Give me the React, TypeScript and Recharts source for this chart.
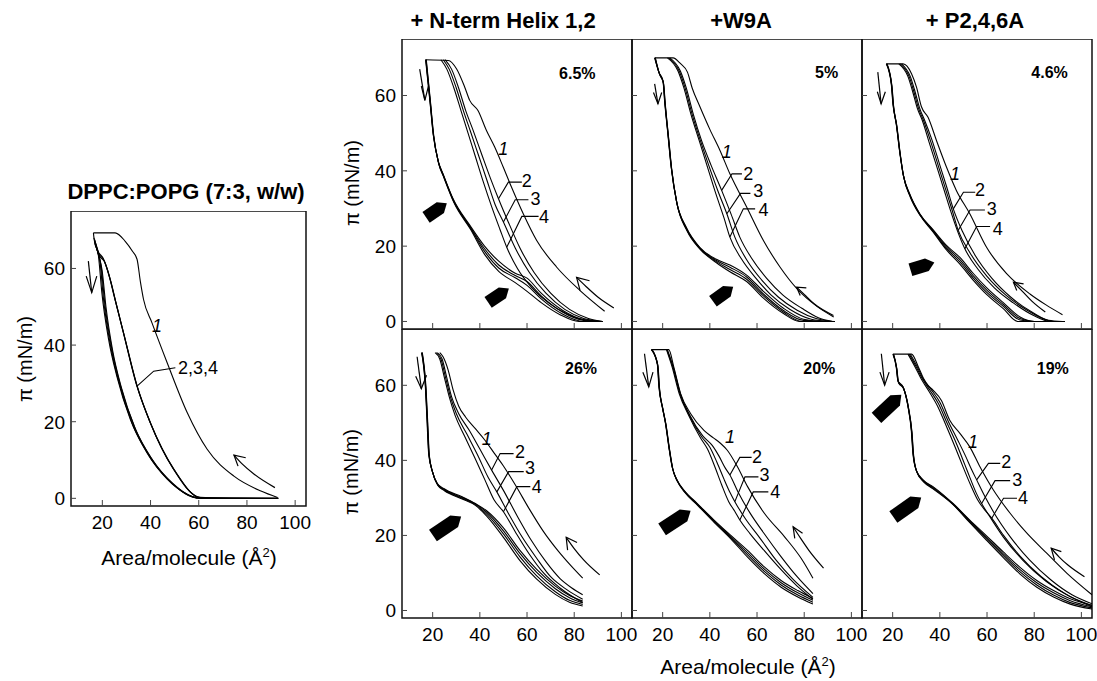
import React from "react";
import { ComposedChart, Line, Scatter, XAxis, YAxis, ReferenceArea } from "recharts";

type P = [number, number];
type Lbl = [number, number, string];
type Mk = [number, number, number];

const X_DOMAIN: [number, number] = [7, 104.5];
const Y_DOMAIN: [number, number] = [-2, 75];
const X_TICKS = [20, 40, 60, 80, 100];
const Y_TICKS = [0, 20, 40, 60];

// ---- DPPC:POPG (7:3, w/w) ----
const dpC1: P[] = [[16.3, 69.3], [25.3, 69.3], [29.5, 67.1], [32.5, 64.5], [34.4, 62.4], [35.8, 56.5], [37.1, 51.9], [40.6, 45.8], [46.9, 35.4], [55.2, 22.4], [63.5, 12.8], [74.6, 5.8], [85.8, 1.9], [92.7, 0.2]];
const dpC2: P[] = [[17, 66.7], [18.4, 64], [20.5, 62.4], [23.3, 57.1], [25.3, 51.9], [28.8, 43.2], [34.4, 29.3], [39.9, 19.7], [49.6, 7.6], [60.8, 0.2], [93, 0]];
const dpC3: P[] = [[17.3, 66], [18.7, 63.4], [20.9, 61.8], [23.6, 56.4], [25.6, 51.2], [29.1, 42.5], [34.7, 28.8], [40.3, 19.2], [50, 7.3], [61.2, 0], [93, 0]];
const dpC4: P[] = [[16.8, 67.5], [18.2, 64.5], [20.2, 62.8], [23, 57.6], [25, 52.5], [28.5, 43.8], [34.1, 29.8], [39.6, 20.2], [49.2, 7.9], [60.5, 0.3], [93, 0]];
const dpE1: P[] = [[16.3, 69.3], [16.6, 67.6], [18.4, 63.2], [19.8, 53.7], [22.6, 41.5], [26, 31.9], [31.6, 20.6], [38.5, 11.9], [46.9, 5], [55.2, 1], [59.4, 0]];
const dpE2: P[] = [[16.5, 68], [17.5, 66], [19, 62], [20.4, 52.5], [23.2, 40.5], [26.8, 30.5], [32.4, 19.5], [39.5, 11], [48, 4.5], [56, 0.8], [60, 0]];
const dpE3: P[] = [[16.8, 67], [18, 64.5], [19.5, 60.5], [21, 51], [23.8, 39.5], [27.5, 29.5], [33.2, 18.8], [40.5, 10.3], [49, 4], [57, 0.5], [60.5, 0]];
const dpE4: P[] = [[17, 66.5], [18.3, 63.8], [19.9, 59.5], [21.5, 50], [24.3, 38.5], [28, 28.7], [33.8, 18], [41, 9.8], [49.5, 3.6], [57.5, 0.3], [61, 0]];
const dpDown: P[] = [[14.2, 61.9], [15.6, 53.7]];
const dpDownHead: P[] = [[13.3, 58], [15.6, 53.7], [17.7, 58]];
const dpArrow: P[] = [[74.6, 11.3], [78, 9], [83, 6.3], [91.6, 2.8]];
const dpArrowHead: P[] = [[79.5, 10.6], [74.6, 11.3], [76.3, 8.4]];
const dpLeaders: P[][] = [[[34.4, 29.3], [41.3, 33.2], [50.3, 34.1]]];
const dpLabels: Lbl[] = [[42.7, 45, "1"], [59.7, 34.1, "2,3,4"]];

// ---- + N-term Helix 1,2 (6.5%) ----
const h1C1: P[] = [[17, 69.5], [26.6, 69.3], [30.1, 67.1], [33.6, 62.2], [35.7, 58.7], [39.2, 56], [42.8, 50.7], [46.3, 46.3], [49.9, 41], [53.4, 35.7], [58.4, 28.6], [64.1, 21.5], [72.6, 14.4], [82.5, 8.2], [92.9, 2.7]];
const h1C2: P[] = [[25.2, 69.5], [28, 67], [31, 62], [34, 56], [37, 51], [41, 44], [44.5, 38], [47.9, 32.6], [52, 26.5], [57, 19.5], [63, 13], [70, 7.5], [78, 3.2], [86, 0.8], [92, 0]];
const h1C3: P[] = [[24.5, 69.5], [27, 67], [30, 62], [33, 56], [36, 50.5], [39.5, 44], [43, 37.5], [46.5, 31], [50, 26.4], [55, 19.5], [61, 13], [68, 7.5], [76, 3.2], [84, 0.8], [91, 0]];
const h1C4: P[] = [[23.5, 69.5], [26, 67], [29, 62], [32, 56], [35, 50], [38, 44], [41.5, 37], [45, 30.5], [48.5, 24.5], [51.4, 19.7], [56, 14], [62, 9], [69, 5], [77, 2], [85, 0.3], [91, 0]];
const h1E1: P[] = [[17, 69.5], [18.8, 58.7], [20.2, 49.8], [22.3, 42.7], [24.4, 39.2], [28.7, 32.5], [35.8, 25.5], [42, 20], [48, 16], [55, 12.8], [60, 11.5], [66, 7.5], [75, 3], [84, 0.5], [92, 0]];
const h1E2: P[] = [[17.1, 69.5], [18.9, 58.5], [20.3, 49.5], [22.4, 42.4], [24.5, 38.9], [28.8, 32.2], [35.9, 25.1], [42, 19.3], [48, 15], [55, 12.2], [60, 10.6], [66, 6.8], [75, 2.5], [84, 0.3], [92, 0]];
const h1E3: P[] = [[17.2, 69.5], [19, 58.3], [20.4, 49.3], [22.5, 42.1], [24.6, 38.6], [28.9, 31.9], [36, 24.8], [42, 18.6], [48, 14.2], [55, 11.6], [60, 9.6], [66, 6], [75, 2], [84, 0], [92, 0]];
const h1E4: P[] = [[17.3, 69.5], [19.1, 58.1], [20.5, 49.1], [22.6, 41.8], [24.7, 38.3], [29, 31.6], [36.1, 24.4], [42, 17.8], [48, 13.3], [55, 10.3], [60, 8], [66, 5], [74, 1.8], [82, 0], [92, 0]];

// ---- +W9A (5%) ----
const w1C1: P[] = [[16.6, 70], [24.4, 70], [27.5, 68.5], [30.5, 66.2], [32.5, 62], [35.8, 57], [40, 51], [44.3, 45.4], [48.5, 39.2], [55.6, 30.4], [62.7, 21.5], [69.8, 14.4], [76.9, 8.7], [85.4, 4], [92.5, 1.2]];
const w1C2: P[] = [[23, 70], [27.5, 66.5], [30, 62], [33, 55], [36.5, 48], [40.5, 41.5], [45, 34.8], [49, 28.5], [52.7, 22.4], [58, 16.5], [64, 11.5], [71, 7], [79, 3.5], [86, 1], [92, 0]];
const w1C3: P[] = [[22.5, 70], [27, 66.5], [29.5, 62], [32.5, 55], [36, 48], [39.5, 41.5], [43.5, 34.5], [47.2, 28.6], [50.6, 22.4], [56, 16], [62, 11], [69, 6.5], [77, 3], [85, 0.8], [92, 0]];
const w1C4: P[] = [[22, 70], [26.5, 66.5], [29, 62], [32, 55], [35.5, 48], [39, 41], [42.5, 34], [46, 27.5], [48.5, 22.4], [53.5, 16.5], [59.5, 11.5], [66, 7], [74, 3.2], [83, 0.6], [91, 0]];
const w1E1: P[] = [[16.6, 70], [18.4, 66.2], [20.1, 64], [20.8, 58.7], [22.2, 49.8], [23.6, 41], [25.8, 32.1], [30, 25], [35.7, 19.7], [42.8, 16.5], [48.5, 15], [55.6, 12.3], [62.7, 8], [71.2, 3.5], [79.7, 0.6], [88, 0], [93, 0]];
const w1E2: P[] = [[16.7, 70], [18.5, 66], [20.2, 63.7], [20.9, 58.4], [22.3, 49.5], [23.7, 40.7], [25.9, 31.8], [30.1, 24.7], [35.8, 19.5], [42.8, 16.2], [48.5, 14.4], [55.6, 11.8], [62.7, 7.3], [71.2, 2.9], [79.7, 0.3], [93, 0]];
const w1E3: P[] = [[16.8, 70], [18.6, 65.8], [20.3, 63.4], [21, 58.1], [22.4, 49.2], [23.8, 40.4], [26, 31.5], [30.2, 24.4], [35.9, 19.3], [42.8, 15.9], [48.5, 13.8], [55.6, 11.2], [62.7, 6.8], [71.2, 2.5], [79, 0], [93, 0]];
const w1E4: P[] = [[16.9, 70], [18.7, 65.6], [20.4, 63.1], [21.1, 57.8], [22.5, 48.9], [23.9, 40.1], [26.1, 31.2], [30.3, 24.1], [36, 19.1], [42.8, 15.6], [48.5, 13.2], [55.6, 10.6], [62.7, 6.2], [71.2, 2.1], [78, 0], [93, 0]];

// ---- + P2,4,6A (4.6%) ----
const pA1C1: P[] = [[17.3, 68.4], [24.4, 68.4], [28, 65.8], [30.1, 62.2], [32.2, 57], [35, 54.2], [38.6, 48], [42.8, 41], [47, 34.8], [52.7, 28.6], [59.8, 19.7], [68.3, 12.7], [78.2, 7.3], [85, 4.4], [92, 1.8]];
const pA1C2: P[] = [[23.8, 68.4], [27.5, 65], [29.5, 61], [31.5, 56.5], [33.5, 53.5], [36.5, 48.5], [40, 41.5], [43, 35.5], [45.7, 29.9], [49.5, 24], [55, 17.5], [62, 11.5], [70, 6.5], [79, 2.5], [88, 0], [93, 0]];
const pA1C3: P[] = [[23.2, 68.4], [27, 65], [29, 61], [31, 56.5], [33, 53.5], [36, 48], [39.5, 41], [42.5, 35], [45, 30], [47.8, 24.2], [53, 18], [60, 12], [68, 7], [77, 3], [86, 0.3], [92, 0]];
const pA1C4: P[] = [[22.6, 68.4], [26.5, 65], [28.5, 61], [30.5, 56.5], [32.5, 53.5], [35.5, 47.5], [39, 40.5], [42, 34.5], [44.5, 29.5], [47.5, 24], [50.6, 19.3], [56, 14], [63, 9], [71, 5], [80, 1.5], [87, 0], [92, 0]];
const pA1E1: P[] = [[17.3, 68.4], [19.4, 63.1], [20.1, 57.8], [21.5, 52.5], [22.9, 45.4], [24.4, 39.2], [27.2, 33.9], [31.5, 28.6], [37.1, 24.4], [42.8, 20.2], [48.5, 17], [54.1, 12.8], [59.8, 9], [66.9, 5], [74, 1.2], [80, 0], [93, 0]];
const pA1E2: P[] = [[17.4, 68.4], [19.5, 62.9], [20.2, 57.6], [21.6, 52.2], [23, 45.1], [24.5, 38.9], [27.3, 33.6], [31.6, 28.4], [37.1, 24.2], [42.8, 19.8], [48.5, 16.4], [54.1, 12.2], [59.8, 8.4], [66.9, 4.5], [74, 0.8], [80, 0], [93, 0]];
const pA1E3: P[] = [[17.5, 68.4], [19.6, 62.7], [20.3, 57.4], [21.7, 52], [23.1, 44.8], [24.6, 38.6], [27.4, 33.3], [31.7, 28.2], [37.1, 24], [42.8, 19.4], [48.5, 15.8], [54.1, 11.6], [59.8, 7.8], [66.9, 4], [74, 0.4], [80, 0], [93, 0]];
const pA1E4: P[] = [[17.6, 68.4], [19.7, 62.5], [20.4, 57.2], [21.8, 51.8], [23.2, 44.5], [24.7, 38.3], [27.5, 33], [31.8, 28], [37.1, 23.8], [42.8, 19], [48.5, 15.2], [54.1, 11], [59.8, 7.2], [66.9, 3.4], [73, 0], [93, 0]];

// ---- + N-term Helix 1,2 (26%) ----
const h2C1: P[] = [[23, 68.7], [24.4, 67.6], [26.6, 64], [28.7, 58.7], [31, 54.5], [34, 51.5], [38, 48.5], [42, 45.5], [46, 42], [50, 38.5], [55, 33.5], [61, 27], [67, 21], [73, 16], [78.5, 12], [83.6, 8.6]];
const h2C2: P[] = [[22, 68.7], [24, 67], [26, 62], [28, 57], [31, 52.5], [35.5, 48], [40, 43], [45, 37.4], [50, 32], [56, 25], [62, 18.5], [68, 13], [74, 8.5], [79, 6], [83.6, 4.2]];
const h2C3: P[] = [[21.5, 68.7], [23.5, 67], [25.5, 62], [27.5, 57], [30, 52.5], [34.5, 47], [39, 41.5], [43.5, 35.5], [47.2, 31.6], [52, 26], [58, 19.5], [64, 14], [70, 9], [77, 5.5], [83.6, 3]];
const h2C4: P[] = [[21, 68.7], [23, 67], [25, 62], [27, 57], [29.5, 52], [33.5, 46.5], [38, 40.5], [42, 35], [46, 29.5], [50, 26.3], [55, 21], [61, 15], [67, 10], [74, 6], [83.6, 2.1]];
const h2E1: P[] = [[15.3, 68.7], [16.9, 59.6], [17.6, 50.7], [18.3, 41.8], [19.7, 37.4], [21.9, 33.9], [24.7, 32.5], [32.5, 30.3], [38.1, 28.5], [43, 26.5], [50, 22], [57, 16], [64, 11], [72, 6.5], [78, 4], [83.6, 2.5]];
const h2E2: P[] = [[15.4, 68.7], [17, 59.4], [17.7, 50.5], [18.4, 41.6], [19.8, 37.2], [22, 33.7], [24.8, 32.3], [32.5, 30.1], [38.1, 28.4], [43, 26.1], [50, 21.2], [57, 15.2], [64, 10.2], [72, 5.8], [78, 3.4], [83.6, 2]];
const h2E3: P[] = [[15.5, 68.7], [17.1, 59.2], [17.8, 50.3], [18.5, 41.4], [19.9, 37], [22.1, 33.5], [24.9, 32.1], [32.5, 29.9], [38.1, 28.2], [43, 25.6], [50, 20.4], [57, 14.3], [64, 9.3], [72, 5], [78, 2.7], [83.6, 1.6]];
const h2E4: P[] = [[15.6, 68.7], [17.2, 59], [17.9, 50.1], [18.6, 41.2], [20, 36.8], [22.2, 33.3], [25, 31.9], [32.5, 29.7], [38.1, 28], [43, 25.1], [50, 19.5], [57, 13.3], [64, 8.4], [72, 4.3], [78, 2.2], [83.6, 1.2]];

// ---- +W9A (20%) ----
const w2C1: P[] = [[15.2, 69.5], [22.6, 69.5], [24.7, 64.9], [27.6, 57.8], [31.8, 52.5], [37.5, 48], [41.5, 46], [44.6, 44.5], [47.4, 42.7], [51.7, 38.3], [56, 33], [63.1, 25.9], [71.6, 19.7], [78.7, 13.9], [83.7, 8.6]];
const w2C2: P[] = [[22, 69.5], [24.5, 64.9], [27.5, 57.8], [31.5, 52], [37, 46.5], [41, 44], [44, 41], [46.5, 38], [48.5, 36.1], [52, 31.5], [57, 26], [63, 20.5], [70, 14.5], [77, 9], [83.7, 4.5]];
const w2C3: P[] = [[21.8, 69.5], [24.3, 64.9], [27.3, 57.8], [31.3, 52], [36.5, 46.3], [40, 43.5], [43, 39.5], [46, 35], [48.5, 31.5], [50.6, 29], [55, 24.5], [61, 19.5], [68, 13.5], [75, 8.5], [83.7, 3.5]];
const w2C4: P[] = [[21.6, 69.5], [24, 64.9], [27, 57.8], [31, 52], [36, 46], [39, 43], [42, 38.5], [45, 33.5], [48, 29], [50.5, 26.5], [52.7, 24.1], [57, 20.5], [63, 16], [70, 11], [77, 6.5], [83.7, 3]];
const w2E1: P[] = [[15.2, 69.5], [17.7, 65.8], [18.4, 59.6], [19.8, 54.3], [21.2, 49.8], [22.6, 43.6], [24, 38.3], [26.1, 34.8], [29, 32.1], [34.7, 28.5], [41.8, 24.1], [48.9, 20], [56, 16], [63.1, 11.6], [70.2, 8], [77.3, 5.3], [83.7, 3.2]];
const w2E2: P[] = [[15.3, 69.5], [17.8, 65.6], [18.5, 59.4], [19.9, 54.1], [21.3, 49.6], [22.7, 43.4], [24.1, 38.1], [26.2, 34.6], [29.1, 31.9], [34.8, 28.3], [41.8, 23.9], [48.9, 19.7], [56, 15.4], [63.1, 11], [70.2, 7.4], [77.3, 4.7], [83.7, 2.7]];
const w2E3: P[] = [[15.4, 69.5], [17.9, 65.4], [18.6, 59.2], [20, 53.9], [21.4, 49.4], [22.8, 43.2], [24.2, 37.9], [26.3, 34.4], [29.2, 31.7], [34.9, 28.1], [41.8, 23.7], [48.9, 19.4], [56, 14.8], [63.1, 10.4], [70.2, 6.8], [77.3, 4.1], [83.7, 2.2]];
const w2E4: P[] = [[15.5, 69.5], [18, 65.2], [18.7, 59], [20.1, 53.7], [21.5, 49.2], [22.9, 43], [24.3, 37.7], [26.4, 34.2], [29.3, 31.5], [35, 27.9], [41.8, 23.5], [48.9, 19.1], [56, 14.2], [63.1, 9.8], [70.2, 6.2], [77.3, 3.6], [83.7, 1.7]];

// ---- + P2,4,6A (19%) ----
const pA2C1: P[] = [[20.1, 68.3], [28, 68.3], [30.9, 64.9], [33.1, 61.8], [35, 60], [37.1, 58.7], [40.6, 56], [44.2, 50.7], [48.5, 47.2], [52.7, 43.6], [57, 38.3], [62.7, 32.1], [69.8, 25.9], [76.9, 20.6], [85.4, 15.2], [93.9, 9.9], [104.5, 4.2]];
const pA2C2: P[] = [[27.5, 68.3], [30.5, 64.9], [32.8, 61.8], [36.5, 58.7], [40, 55.5], [43.5, 50.5], [47.5, 45.5], [51, 41], [53.5, 37.5], [55.6, 34.8], [59, 30.5], [63, 26], [70, 19.5], [78, 13.5], [87, 8.2], [96, 4.2], [104.5, 1.8]];
const pA2C3: P[] = [[27, 68.3], [30, 64.9], [32.5, 61.8], [36, 58.5], [39.5, 55], [43, 50], [47, 44.5], [50.5, 39], [53, 35], [55.5, 31.2], [57.7, 28.5], [61, 25.2], [67, 19.5], [75, 13.5], [85, 7.8], [95, 3.8], [104.5, 1.3]];
const pA2C4: P[] = [[26.5, 68.3], [29.5, 64.9], [32, 61.8], [35.5, 58.3], [39, 54.5], [42.5, 49.5], [46.5, 43.5], [50, 38], [53, 33.5], [56, 29.5], [59, 26.8], [62, 24.6], [67, 20], [74, 14.5], [83, 9], [93, 4.5], [104.5, 1]];
const pA2E1: P[] = [[20.1, 68.3], [21.5, 64.9], [22.2, 61.3], [24.4, 59.6], [26.5, 54.3], [27.9, 48], [28.6, 41.8], [30, 37.4], [32.9, 34.8], [37.1, 33], [45.6, 28.5], [52.7, 24.1], [59.8, 19.9], [66.9, 15.6], [74, 11.5], [81.1, 8], [88.2, 5.3], [95.3, 3.1], [104.5, 1.4]];
const pA2E2: P[] = [[20.2, 68.3], [21.6, 64.7], [22.3, 61.1], [24.5, 59.4], [26.6, 54.1], [28, 47.8], [28.7, 41.6], [30.1, 37.2], [33, 34.6], [37.1, 32.8], [45.6, 28.4], [52.7, 23.9], [59.8, 19.5], [66.9, 15.1], [74, 10.9], [81.1, 7.4], [88.2, 4.7], [95.3, 2.6], [104.5, 1]];
const pA2E3: P[] = [[20.3, 68.3], [21.7, 64.5], [22.4, 60.9], [24.6, 59.2], [26.7, 53.9], [28.1, 47.6], [28.8, 41.4], [30.2, 37], [33.1, 34.4], [37.1, 32.6], [45.6, 28.3], [52.7, 23.6], [59.8, 19.1], [66.9, 14.6], [74, 10.3], [81.1, 6.8], [88.2, 4.1], [95.3, 2.1], [104.5, 0.7]];
const pA2E4: P[] = [[20.4, 68.3], [21.8, 64.3], [22.5, 60.7], [24.7, 59], [26.8, 53.7], [28.2, 47.4], [28.9, 41.2], [30.3, 36.8], [33.2, 34.2], [37.1, 32.4], [45.6, 28.2], [52.7, 23.4], [59.8, 18.7], [66.9, 14.1], [74, 9.7], [81.1, 6.2], [88.2, 3.6], [95.3, 1.7], [104.5, 0.4]];

// annotations for the six grid panels: down arrow, its head, curved arrow, its head
const h1Arrows: P[][] = [[[14.5, 67], [16.7, 58.7]], [[15.2, 62.5], [16.7, 58.7], [18.2, 62.5]], [[81, 11.7], [85, 9.3], [90, 6.5], [96.8, 3.6]], [[86.5, 10.8], [81, 11.7], [82.5, 8.2]]];
const w1Arrows: P[][] = [[[16.6, 63.1], [18, 57.8]], [[16.1, 60.8], [18, 57.8], [19.6, 60.8]], [[76.8, 9.1], [80, 7.2], [84.2, 4.7], [92.4, 1.6]], [[80.9, 8.9], [76.8, 9.1], [78.3, 6.9]]];
const pA1Arrows: P[][] = [[[13.7, 66.2], [15.1, 57.8]], [[13.5, 61], [15.1, 57.8], [16.9, 61]], [[71.2, 10.4], [75, 8], [79, 5.4], [84.7, 2.5]], [[75.5, 10], [71.2, 10.4], [72.6, 8.2]]];
const h2Arrows: P[][] = [[[13.4, 67.6], [15.2, 59.1]], [[12.8, 62.4], [15.2, 59.1], [17.4, 62.7]], [[76.6, 19.5], [80, 16.5], [84, 13.5], [90.8, 9.5]], [[81.2, 18.1], [76.6, 19.5], [77.2, 16.1]]];
const w2Arrows: P[][] = [[[12.3, 68.4], [14.1, 59.6]], [[11.6, 63.5], [14.1, 59.6], [15.9, 63.5]], [[75.3, 22.3], [78.5, 19.2], [81.9, 16.1], [88.2, 11.3]], [[79.3, 20.6], [75.3, 22.3], [76, 19.2]]];
const pA2Arrows: P[][] = [[[15.2, 68.4], [16.6, 60]], [[14.6, 63.5], [16.6, 60], [18.5, 63.5]], [[87.2, 16.6], [90.5, 14.3], [94.3, 12.1], [101.3, 9]], [[91.5, 15.7], [87.2, 16.6], [88.6, 13.5]]];

const h1Leaders: P[][] = [[[47.9, 32.6], [52.1, 37], [57.8, 37]], [[50, 26.4], [55, 32.3], [60.6, 32.3]], [[51.4, 19.7], [57.8, 27.9], [64.9, 27.9]]];
const w1Leaders: P[][] = [[[45, 34.8], [49.4, 39.2], [53.6, 39.2]], [[47.2, 28.6], [53, 34], [57.2, 34]], [[48.5, 22.4], [54.2, 29.9], [59.2, 29.9]]];
const pA1Leaders: P[][] = [[[45.7, 29.9], [50, 34.3], [55, 34.3]], [[47.8, 24.2], [52.8, 29.6], [59.1, 29.6]], [[50.6, 19.3], [55.6, 25.2], [61.3, 25.2]]];
const h2Leaders: P[][] = [[[45, 37.4], [48.6, 41.8], [54.3, 41.8]], [[47.2, 31.6], [52.2, 37], [58.6, 37]], [[50, 26.3], [55.7, 33], [61.4, 33]]];
const w2Leaders: P[][] = [[[48.5, 36.1], [52.7, 40.8], [57.7, 40.8]], [[50.6, 29], [54.9, 35.6], [60.6, 35.6]], [[52.7, 24.1], [58.4, 31.6], [64.8, 31.6]]];
const pA2Leaders: P[][] = [[[55.6, 34.8], [60.6, 39.2], [65.6, 39.2]], [[57.7, 28.5], [63.4, 34.6], [69.8, 34.6]], [[62, 24.6], [67, 29.9], [72.7, 29.9]]];

const h1Labels: Lbl[] = [[49.9, 45.8, "1"], [59.9, 37.4, "2"], [63.6, 32.6, "3"], [67.2, 27.7, "4"]];
const w1Labels: Lbl[] = [[47.2, 45, "1"], [56.3, 39.2, "2"], [60.5, 34.6, "3"], [62.7, 29.5, "4"]];
const pA1Labels: Lbl[] = [[46.4, 39.2, "1"], [57, 34.8, "2"], [62, 29.9, "3"], [64.5, 24.6, "4"]];
const h2Labels: Lbl[] = [[42.9, 45.8, "1"], [57, 42.3, "2"], [61.3, 37.9, "3"], [64.1, 33, "4"]];
const w2Labels: Lbl[] = [[48.5, 46.3, "1"], [60, 41, "2"], [63.2, 36.1, "3"], [67.7, 31.6, "4"]];
const pA2Labels: Lbl[] = [[54.1, 44.9, "1"], [68.2, 39.6, "2"], [72.8, 34.9, "3"], [75.3, 29.9, "4"]];

const pctLabels: Lbl[] = [[81.3, 65.9, "6.5%"], [89.5, 66.2, "5%"], [86.5, 66.2, "4.6%"], [82.9, 64.5, "26%"], [86.4, 64.5, "20%"], [87.9, 64.5, "19%"]];

// block arrows: x, y, angle (deg)
const h1Marks: Mk[] = [[21.6, 29.5, -34], [47.9, 6.9, -34]];
const w1Marks: Mk[] = [[45.6, 7.3, -36]];
const pA1Marks: Mk[] = [[32.6, 14.7, -17]];
const h2Marks: Mk[] = [[26.1, 22.5, -34]];
const w2Marks: Mk[] = [[25.8, 24.1, -33]];
const pA2Marks: Mk[] = [[18.4, 54.4, -43], [26.2, 27.5, -35]];

const FONT = "'Liberation Sans', Arial, sans-serif";
const YW = 45;
const XH = 32;
const RM = 24;

const toPts = (a: P[]) => a.map(([x, y]) => ({ x, y }));

interface PanelDef {
  curves: P[][];
  arrows: P[][];
  leaders: P[][];
  labels: Lbl[];
  marks: Mk[];
  pct?: Lbl;
}

const makeYTick = (show: boolean) => (p: any) => (
  <g>
    <line x1={p.x} x2={p.x + 5} y1={p.y} y2={p.y} stroke="#444" strokeWidth={1} />
    {show && (
      <text x={p.x - 6} y={p.y + 7} textAnchor="end" fontSize={19} fill="#000" fontFamily={FONT}>
        {p.payload.value}
      </text>
    )}
  </g>
);

const makeXTick = (show: boolean) => (p: any) => (
  <g>
    <line x1={p.x} x2={p.x} y1={p.y} y2={p.y - 6} stroke="#444" strokeWidth={1} />
    {show && (
      <text x={p.x} y={p.y + 23} textAnchor="middle" fontSize={19} fill="#000" fontFamily={FONT}>
        {p.payload.value}
      </text>
    )}
  </g>
);

function Panel(props: {
  def: PanelDef;
  left: number;
  top: number;
  w: number;
  h: number;
  yLabels: boolean;
  xLabels: boolean;
  big: boolean;
}) {
  const { def, left, top, w, h, yLabels, xLabels, big } = props;
  const L = big ? 34 : 25;
  const W = big ? 14 : 13;
  const t = W * 0.6;
  const markPath = `M${-L / 2},${-W / 2} L${L / 2 - t},${-W / 2} L${L / 2},0 L${L / 2 - t},${W / 2} L${-L / 2},${W / 2} Z`;
  const labelData = def.labels.map(([x, y, s]) => ({ x, y, s }));
  const markData = def.marks.map(([x, y, a]) => ({ x, y, a }));
  const pctData = def.pct ? [{ x: def.pct[0], y: def.pct[1], s: def.pct[2] }] : [];
  return (
    <div style={{ position: "absolute", left: left - YW, top }}>
      <ComposedChart width={w + YW + RM} height={h + XH} margin={{ top: 0, right: RM, bottom: 0, left: 0 }}>
        <XAxis
          dataKey="x"
          type="number"
          domain={X_DOMAIN}
          ticks={X_TICKS}
          interval={0}
          allowDataOverflow
          height={XH}
          tickSize={0}
          tickMargin={0}
          axisLine={false}
          tickLine={false}
          tick={makeXTick(xLabels)}
        />
        <YAxis
          dataKey="y"
          type="number"
          domain={Y_DOMAIN}
          ticks={Y_TICKS}
          interval={0}
          allowDataOverflow
          width={YW}
          tickSize={0}
          tickMargin={0}
          axisLine={false}
          tickLine={false}
          tick={makeYTick(yLabels)}
        />
        <ReferenceArea x1={X_DOMAIN[0]} x2={X_DOMAIN[1]} y1={Y_DOMAIN[0]} y2={Y_DOMAIN[1]} fill="none" stroke="#111" strokeWidth={1.5} ifOverflow="visible" />
        {def.curves.map((c, i) => (
          <Line key={"c" + i} data={toPts(c)} dataKey="y" type="monotone" dot={false} stroke="#000" strokeWidth={1.1} isAnimationActive={false} />
        ))}
        {def.arrows.map((c, i) => (
          <Line key={"a" + i} data={toPts(c)} dataKey="y" type={c.length > 3 ? "monotone" : "linear"} dot={false} stroke="#000" strokeWidth={1.2} isAnimationActive={false} />
        ))}
        {def.leaders.map((c, i) => (
          <Line key={"l" + i} data={toPts(c)} dataKey="y" type="linear" dot={false} stroke="#000" strokeWidth={1.1} isAnimationActive={false} />
        ))}
        {markData.length > 0 && (
          <Scatter
            data={markData}
            isAnimationActive={false}
            shape={(p: any) => (
              <path d={markPath} transform={`translate(${p.cx},${p.cy}) rotate(${p.payload.a})`} fill="#000" />
            )}
          />
        )}
        <Scatter
          data={labelData}
          isAnimationActive={false}
          shape={(p: any) => (
            <text
              x={p.cx}
              y={p.cy + 6}
              textAnchor="middle"
              fontSize={18}
              fontStyle={p.payload.s === "1" ? "italic" : "normal"}
              fontFamily={FONT}
              fill="#000"
            >
              {p.payload.s}
            </text>
          )}
        />
        {pctData.length > 0 && (
          <Scatter
            data={pctData}
            isAnimationActive={false}
            shape={(p: any) => (
              <text x={p.cx} y={p.cy + 6} textAnchor="middle" fontSize={16} fontWeight="bold" fontFamily={FONT} fill="#000">
                {p.payload.s}
              </text>
            )}
          />
        )}
      </ComposedChart>
    </div>
  );
}

const leftDef: PanelDef = {
  curves: [dpC1, dpC2, dpC3, dpC4, dpE1, dpE2, dpE3, dpE4],
  arrows: [dpDown, dpDownHead, dpArrow, dpArrowHead],
  leaders: dpLeaders,
  labels: dpLabels,
  marks: [],
};

const gridDefs: PanelDef[] = [
  { curves: [h1C1, h1C2, h1C3, h1C4, h1E1, h1E2, h1E3, h1E4], arrows: h1Arrows, leaders: h1Leaders, labels: h1Labels, marks: h1Marks, pct: pctLabels[0] },
  { curves: [w1C1, w1C2, w1C3, w1C4, w1E1, w1E2, w1E3, w1E4], arrows: w1Arrows, leaders: w1Leaders, labels: w1Labels, marks: w1Marks, pct: pctLabels[1] },
  { curves: [pA1C1, pA1C2, pA1C3, pA1C4, pA1E1, pA1E2, pA1E3, pA1E4], arrows: pA1Arrows, leaders: pA1Leaders, labels: pA1Labels, marks: pA1Marks, pct: pctLabels[2] },
  { curves: [h2C1, h2C2, h2C3, h2C4, h2E1, h2E2, h2E3, h2E4], arrows: h2Arrows, leaders: h2Leaders, labels: h2Labels, marks: h2Marks, pct: pctLabels[3] },
  { curves: [w2C1, w2C2, w2C3, w2C4, w2E1, w2E2, w2E3, w2E4], arrows: w2Arrows, leaders: w2Leaders, labels: w2Labels, marks: w2Marks, pct: pctLabels[4] },
  { curves: [pA2C1, pA2C2, pA2C3, pA2C4, pA2E1, pA2E2, pA2E3, pA2E4], arrows: pA2Arrows, leaders: pA2Leaders, labels: pA2Labels, marks: pA2Marks, pct: pctLabels[5] },
];

const colLeft = [402, 632, 862];
const rowTop = [39, 329];

const titleStyle: React.CSSProperties = {
  position: "absolute",
  transform: "translate(-50%, -50%)",
  fontWeight: "bold",
  fontSize: 22,
  whiteSpace: "nowrap",
};

const axisTitle: React.CSSProperties = {
  position: "absolute",
  transform: "translate(-50%, -50%)",
  fontSize: 21,
  whiteSpace: "nowrap",
};

const yTitle: React.CSSProperties = {
  position: "absolute",
  transform: "translate(-50%, -50%) rotate(-90deg)",
  fontSize: 20,
  whiteSpace: "nowrap",
};

export default function App() {
  return (
    <div style={{ position: "absolute", left: 0, top: 0, width: 1097, height: 681, background: "#fff", fontFamily: FONT, color: "#000", overflow: "hidden" }}>
      <div style={{ ...titleStyle, left: 186, top: 192 }}>DPPC:POPG (7:3, w/w)</div>
      <div style={{ ...titleStyle, left: 503, top: 21 }}>+ N-term Helix 1,2</div>
      <div style={{ ...titleStyle, left: 741, top: 21 }}>+W9A</div>
      <div style={{ ...titleStyle, left: 975, top: 21 }}>+ P2,4,6A</div>

      <Panel def={leftDef} left={71} top={211} w={235} h={295} yLabels xLabels big={false} />
      {gridDefs.map((d, i) => (
        <Panel
          key={i}
          def={d}
          left={colLeft[i % 3]}
          top={rowTop[Math.floor(i / 3)]}
          w={230}
          h={i < 3 ? 290 : 289}
          yLabels={i % 3 === 0}
          xLabels={i >= 3}
          big={i >= 3}
        />
      ))}

      <div style={{ ...yTitle, left: 25, top: 359 }}>π (mN/m)</div>
      <div style={{ ...yTitle, left: 352, top: 183 }}>π (mN/m)</div>
      <div style={{ ...yTitle, left: 351, top: 472 }}>π (mN/m)</div>
      <div style={{ ...axisTitle, left: 189, top: 557 }}>
        Area/molecule (Å<sup style={{ fontSize: 13 }}>2</sup>)
      </div>
      <div style={{ ...axisTitle, left: 748, top: 666 }}>
        Area/molecule (Å<sup style={{ fontSize: 13 }}>2</sup>)
      </div>
    </div>
  );
}
